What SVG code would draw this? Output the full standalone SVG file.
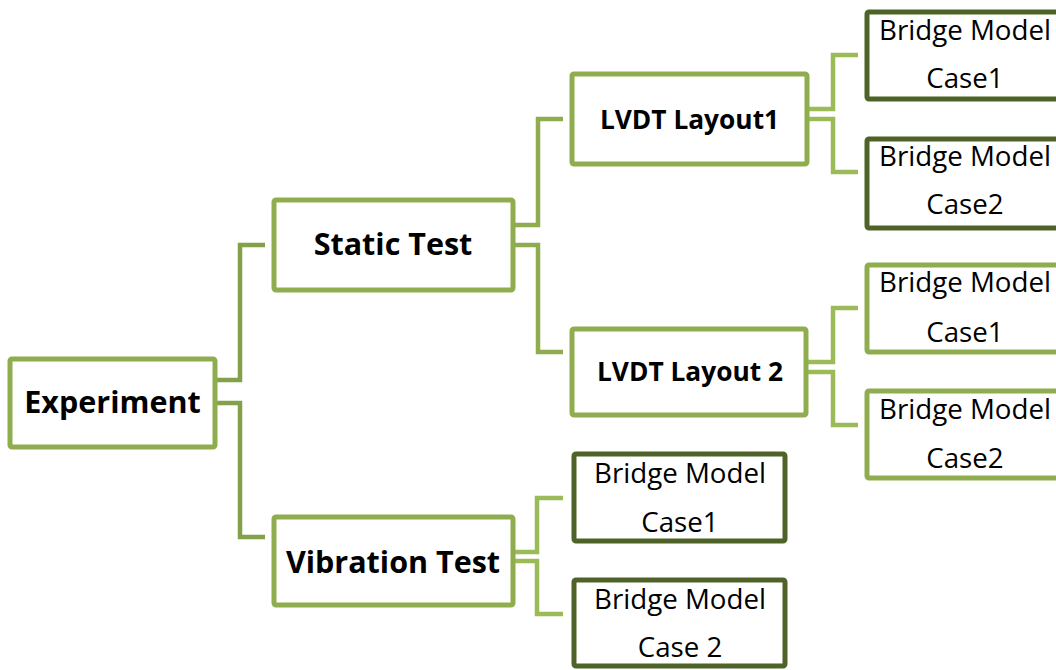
<svg xmlns="http://www.w3.org/2000/svg" width="1056" height="670" viewBox="0 0 1056 670">
<style>
.box{fill:#fff;stroke:#8FAD4F;stroke-width:5}
.dark{fill:#fff;stroke:#4F6228;stroke-width:5}
.c1{fill:none;stroke:#84A04A;stroke-width:4.5}
.c2{fill:none;stroke:#8FAD4F;stroke-width:4.5}
.c3{fill:none;stroke:#9BBB59;stroke-width:4.5}
.b{font-family:"Open Sans","Liberation Sans",sans-serif;font-weight:700;fill:#000;text-anchor:middle}
.r{font-family:"Open Sans","Liberation Sans",sans-serif;font-size:27.7px;fill:#000;text-anchor:middle}
</style>
<rect width="1056" height="670" fill="#fff"/>
<g id="connectors">
<path class="c1" d="M217 380H240V245H265"/>
<path class="c1" d="M217 403H240V537H265"/>
<path class="c2" d="M515 225H538V119H563"/>
<path class="c2" d="M515 245H538V352H563"/>
<path class="c3" d="M809 109H833V55H858"/>
<path class="c3" d="M809 119H833V172H858"/>
<path class="c3" d="M808 362H833V308H858"/>
<path class="c3" d="M808 372H833V425H858"/>
<path class="c3" d="M515 552H537V498H563"/>
<path class="c3" d="M515 561H537V614H563"/>
</g>
<g id="experiment"><rect class="box" x="10" y="359" width="205" height="88" rx="2"/><text class="b" x="112.5" y="413" font-size="30.5">Experiment</text></g>
<g id="static"><rect class="box" x="274" y="200" width="239" height="90" rx="2"/><text class="b" x="393" y="255" font-size="30.5">Static Test</text></g>
<g id="vibration"><rect class="box" x="274" y="517" width="239" height="88" rx="2"/><text class="b" x="393" y="573" font-size="30.5">Vibration Test</text></g>
<g id="lvdt1"><rect class="box" x="572" y="74" width="235" height="90" rx="2"/><text class="b" x="689.5" y="129" font-size="26.3">LVDT Layout1</text></g>
<g id="lvdt2"><rect class="box" x="572" y="329" width="234" height="86" rx="2"/><text class="b" x="690" y="381" font-size="26.3">LVDT Layout 2</text></g>
<g id="l1case1"><rect class="dark" x="867" y="12" width="200" height="87" rx="2"/><text class="r" x="965" y="40">Bridge Model</text><text class="r" x="965" y="88">Case1</text></g>
<g id="l1case2"><rect class="dark" x="867" y="139" width="200" height="89" rx="2"/><text class="r" x="965" y="166">Bridge Model</text><text class="r" x="965" y="214">Case2</text></g>
<g id="l2case1"><rect class="box" x="867" y="265" width="200" height="87" rx="2"/><text class="r" x="965" y="292">Bridge Model</text><text class="r" x="965" y="342">Case1</text></g>
<g id="l2case2"><rect class="box" x="867" y="391" width="200" height="87" rx="2"/><text class="r" x="965" y="419">Bridge Model</text><text class="r" x="965" y="468">Case2</text></g>
<g id="vcase1"><rect class="dark" x="574" y="454" width="211" height="87" rx="2"/><text class="r" x="680" y="483">Bridge Model</text><text class="r" x="680" y="532">Case1</text></g>
<g id="vcase2"><rect class="dark" x="574" y="580" width="211" height="86" rx="2"/><text class="r" x="680" y="609">Bridge Model</text><text class="r" x="680" y="657">Case 2</text></g>
</svg>
